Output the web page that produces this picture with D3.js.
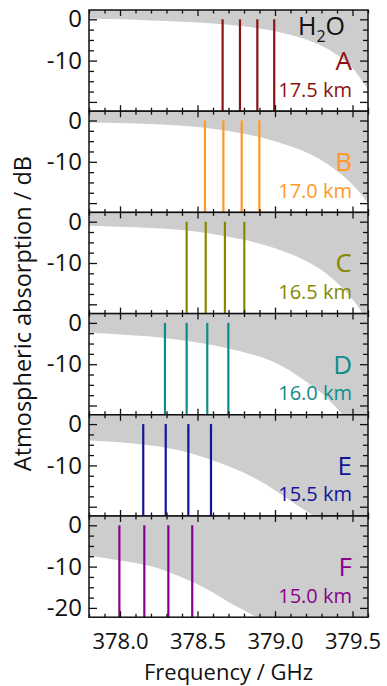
<!DOCTYPE html>
<html>
<head>
<meta charset="utf-8">
<script src="https://cdn.jsdelivr.net/npm/d3@7"></script>
<style>
  body { margin: 0; background: #fff; }
  svg text { font-family: "Open Sans", "DejaVu Sans", sans-serif; }
</style>
</head>
<body>
<svg id="chart" width="387" height="686"></svg>
<script>
// Panel identifiers, tangent altitudes and colours
const panelLetters = ["A", "B", "C", "D", "E", "F"];
const altitudes = ["17.5 km", "17.0 km", "16.5 km", "16.0 km", "15.5 km", "15.0 km"];
const panelColors = ["#8b1212", "#ff981f", "#888800", "#0f8b8b", "#14149a", "#8b008b"];

// Channel frequencies (GHz) per panel
const channelsA = [378.662, 378.774, 378.886, 378.995];
const channelsB = [378.548, 378.667, 378.785, 378.899];
const channelsC = [378.430, 378.553, 378.677, 378.802];
const channelsD = [378.290, 378.430, 378.563, 378.699];
const channelsE = [378.150, 378.295, 378.441, 378.587];
const channelsF = [377.996, 378.157, 378.312, 378.466];

// H2O absorption edge per panel: [frequency GHz, absorption dB]
const absorptionA = [[377.8, 0.2], [378.0, 0.0], [378.2, -0.3], [378.4, -0.6], [378.6, -1.0], [378.8, -1.7],
  [379.0, -2.9], [379.2, -4.9], [379.3, -6.4], [379.4, -8.6], [379.5, -11.8], [379.6, -17.0]];
const absorptionB = [[377.8, -0.5], [378.0, -0.6], [378.2, -0.85], [378.4, -1.25], [378.6, -2.0], [378.8, -3.2],
  [379.0, -5.0], [379.2, -7.7], [379.3, -9.6], [379.4, -12.2], [379.5, -15.5], [379.6, -20.0]];
const absorptionC = [[377.8, -1.0], [378.0, -1.2], [378.2, -1.5], [378.4, -2.0], [378.6, -3.0], [378.8, -4.4],
  [379.0, -6.4], [379.2, -9.5], [379.3, -11.7], [379.4, -14.8], [379.5, -18.8], [379.56, -22.0], [379.6, -25.0]];
const absorptionD = [[377.8, -2.4], [378.0, -2.8], [378.2, -3.3], [378.4, -4.2], [378.6, -5.4], [378.8, -7.1],
  [379.0, -9.6], [379.2, -14.2], [379.3, -17.0], [379.43, -22.0], [379.6, -30.0]];
const absorptionE = [[377.8, -4.0], [378.0, -4.4], [378.2, -5.2], [378.4, -6.5], [378.6, -8.8], [378.8, -11.8],
  [379.0, -16.0], [379.1, -18.6], [379.24, -22.0], [379.6, -34.0]];
const absorptionF = [[377.8, -7.4], [378.0, -8.5], [378.2, -9.9], [378.4, -12.6], [378.6, -16.3], [378.7, -18.6],
  [378.87, -22.0], [379.6, -40.0]];

// Axis ticks
const freqMajorTicks = [378.0, 378.5, 379.0, 379.5];
const freqTickLabels = ["378.0", "378.5", "379.0", "379.5"];
const dbMajorTicks = [0, -10, -20];
const dbTickLabels = ["0", "-10", "-20"];

const channels = [channelsA, channelsB, channelsC, channelsD, channelsE, channelsF];
const absorption = [absorptionA, absorptionB, absorptionC, absorptionD, absorptionE, absorptionF];

const svg = d3.select("#chart");
const left = 89, right = 368, top0 = 10, bottom = 617.2;
const nPanels = panelLetters.length;
const ph = (bottom - top0) / nPanels;

const x = d3.scaleLinear().domain([377.8, 379.6]).range([left, right]);
const freqMinor = d3.range(3778, 3797).map(v => v / 10).filter(v => !freqMajorTicks.some(m => Math.abs(m - v) < 1e-6));
const dbMinor = d3.range(0, -22.5, -2.5).filter(v => !dbMajorTicks.includes(v));

const fontFamily = '"Open Sans", "DejaVu Sans", sans-serif';
function styleAxis(g, fs) {
  g.select(".domain").remove();
  g.selectAll("line").attr("stroke", "#111").attr("stroke-width", 1.3);
  g.selectAll("text").attr("font-family", fontFamily).attr("font-size", fs).attr("fill", "#111");
  // drop empty label nodes left by tick-only axes
  g.selectAll("text").filter(function () { return this.textContent === ""; }).remove();
}

panelLetters.forEach((letter, i) => {
  const top = top0 + i * ph;
  const bot = top + ph;
  const y = d3.scaleLinear().domain([2.25, -22.25]).range([top, bot]);
  const g = svg.append("g").attr("class", "panel");

  const clipId = "clip-" + letter;
  svg.append("clipPath").attr("id", clipId)
    .append("rect").attr("x", left).attr("y", top).attr("width", right - left).attr("height", ph);

  // shaded absorption region above the edge
  const area = d3.area()
    .x(d => x(d[0]))
    .y0(top)
    .y1(d => y(d[1]))
    .curve(d3.curveMonotoneX);
  g.append("path").datum(absorption[i])
    .attr("d", area)
    .attr("fill", "#cdcdcd")
    .attr("clip-path", `url(#${clipId})`);

  // channel lines
  g.selectAll("line.channel").data(channels[i]).join("line")
    .attr("class", "channel")
    .attr("x1", d => x(d)).attr("x2", d => x(d))
    .attr("y1", y(0)).attr("y2", bot)
    .attr("stroke", panelColors[i])
    .attr("stroke-width", 2.2);

  // y axes (inward ticks on both sides)
  const showMinus20 = i === nPanels - 1;
  g.append("g").attr("transform", `translate(${left},0)`)
    .call(d3.axisLeft(y).tickValues(dbMajorTicks).tickSize(-8).tickPadding(7)
      .tickFormat((d, k) => (d === -20 && !showMinus20) ? "" : dbTickLabels[k]))
    .call(a => styleAxis(a, 24));
  g.append("g").attr("transform", `translate(${left},0)`)
    .call(d3.axisLeft(y).tickValues(dbMinor).tickSize(-5).tickFormat(""))
    .call(a => styleAxis(a, 24));
  g.append("g").attr("transform", `translate(${right},0)`)
    .call(d3.axisRight(y).tickValues(dbMajorTicks).tickSize(-8).tickFormat(""))
    .call(a => styleAxis(a, 24));
  g.append("g").attr("transform", `translate(${right},0)`)
    .call(d3.axisRight(y).tickValues(dbMinor).tickSize(-5).tickFormat(""))
    .call(a => styleAxis(a, 24));

  // x axes (inward ticks top and bottom)
  g.append("g").attr("transform", `translate(0,${top})`)
    .call(d3.axisTop(x).tickValues(freqMajorTicks).tickSize(-6).tickFormat(""))
    .call(a => styleAxis(a, 22));
  g.append("g").attr("transform", `translate(0,${top})`)
    .call(d3.axisTop(x).tickValues(freqMinor).tickSize(-3.5).tickFormat(""))
    .call(a => styleAxis(a, 22));
  const isLast = i === nPanels - 1;
  g.append("g").attr("transform", `translate(0,${bot})`)
    .call(d3.axisBottom(x).tickValues(freqMajorTicks).tickSize(-6).tickPadding(16)
      .tickFormat((d, k) => isLast ? freqTickLabels[k] : ""))
    .call(a => styleAxis(a, 22));
  g.append("g").attr("transform", `translate(0,${bot})`)
    .call(d3.axisBottom(x).tickValues(freqMinor).tickSize(-3.5).tickFormat(""))
    .call(a => styleAxis(a, 22));

  // frame
  g.append("rect")
    .attr("x", left).attr("y", top).attr("width", right - left).attr("height", ph)
    .attr("fill", "none").attr("stroke", "#111").attr("stroke-width", 1.5);

  // panel letter and altitude
  g.append("text")
    .attr("x", 352).attr("y", top + 60)
    .attr("text-anchor", "end")
    .attr("font-size", 26)
    .attr("fill", panelColors[i])
    .text(letter);
  g.append("text")
    .attr("x", 352).attr("y", top + 86.5)
    .attr("text-anchor", "end")
    .attr("font-size", 20)
    .attr("fill", panelColors[i])
    .text(altitudes[i]);

  if (i === 0) {
    const h2o = g.append("text")
      .attr("x", 345).attr("y", top + 25)
      .attr("text-anchor", "end")
      .attr("font-size", 25)
      .attr("fill", "#111");
    h2o.append("tspan").text("H");
    h2o.append("tspan").attr("font-size", 16).attr("dy", 6.5).text("2");
    h2o.append("tspan").attr("dy", -6.5).text("O");
  }
});

// axis titles
svg.append("text")
  .attr("x", (left + right) / 2).attr("y", 680)
  .attr("text-anchor", "middle")
  .attr("font-size", 22)
  .attr("fill", "#111")
  .text("Frequency / GHz");

svg.append("text")
  .attr("transform", `translate(31,${(top0 + bottom) / 2}) rotate(-90)`)
  .attr("text-anchor", "middle")
  .attr("font-size", 23.5)
  .attr("fill", "#111")
  .text("Atmospheric absorption / dB");
</script>
</body>
</html>
